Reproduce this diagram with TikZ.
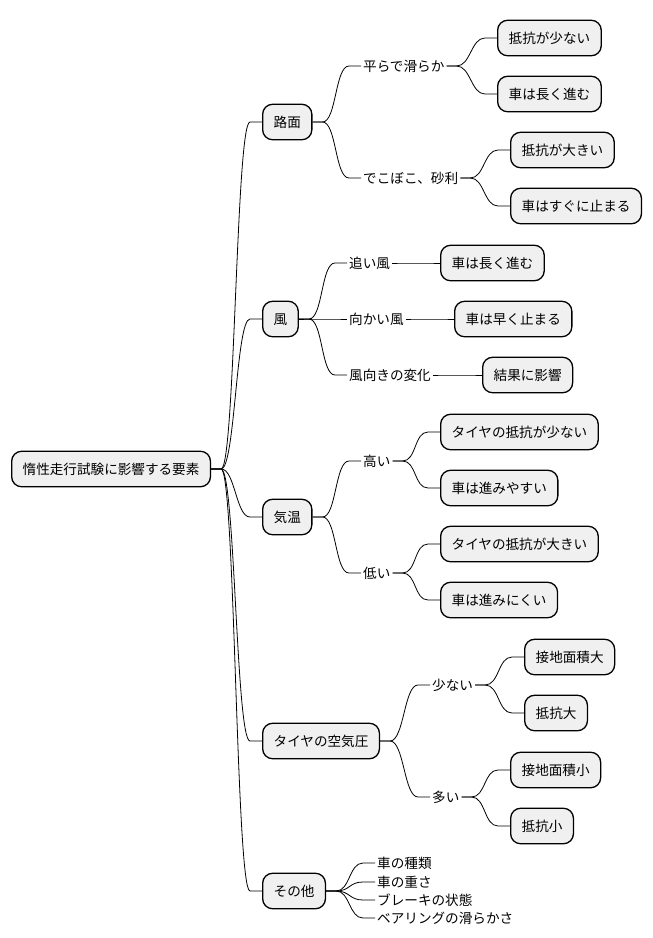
\documentclass[tikz,border=0pt]{standalone}
\usepackage{fontspec}
\setmainfont{Noto Sans CJK JP}
\usetikzlibrary{positioning}

\begin{document}
\begin{tikzpicture}[x=1pt,y=-1pt]
    \useasboundingbox (0,0) rectangle (653,938);

    \tikzstyle{box}=[anchor=west,draw=black,line width=1.3pt,fill=gray!12,rounded corners=10pt,inner xsep=11pt,minimum height=35.5pt,text height=12pt,text depth=1.6pt,font=\fontsize{13.6}{16}\selectfont]
    \tikzstyle{leaf}=[anchor=west,inner xsep=2pt,inner ysep=0pt,text height=12pt,text depth=1.6pt,font=\fontsize{13.6}{16}\selectfont]
    \tikzstyle{link}=[draw=black,line width=0.8pt,to path={-- ++(10,0) .. controls +(14,0) and +(-14,0) .. ([xshift=-12pt]\tikztotarget) -- (\tikztotarget)}]

    \node[box]  (root) at (11,469) {惰性走行試験に影響する要素};

    \node[box]  (road) at (262,122) {路面};
    \node[leaf] (flat) at (361,66) {平らで滑らか};
    \node[box]  (flat1) at (497,38) {抵抗が少ない};
    \node[box]  (flat2) at (497,94) {車は長く進む};
    \node[leaf] (rough) at (361,178) {でこぼこ、砂利};
    \node[box]  (rough1) at (510,150) {抵抗が大きい};
    \node[box]  (rough2) at (510,206) {車はすぐに止まる};

    \node[box]  (wind) at (262,319) {風};
    \node[leaf] (tail) at (347,263) {追い風};
    \node[box]  (tail1) at (440,263) {車は長く進む};
    \node[leaf] (head) at (347,319) {向かい風};
    \node[box]  (head1) at (454,319) {車は早く止まる};
    \node[leaf] (shift) at (347,375) {風向きの変化};
    \node[box]  (shift1) at (482,375) {結果に影響};

    \node[box]  (temp) at (262,517) {気温};
    \node[leaf] (hot) at (361,461) {高い};
    \node[box]  (hot1) at (440,432) {タイヤの抵抗が少ない};
    \node[box]  (hot2) at (440,488) {車は進みやすい};
    \node[leaf] (cold) at (361,573) {低い};
    \node[box]  (cold1) at (440,544) {タイヤの抵抗が大きい};
    \node[box]  (cold2) at (440,600) {車は進みにくい};

    \node[box]  (tyre) at (262,741) {タイヤの空気圧};
    \node[leaf] (low) at (430,685) {少ない};
    \node[box]  (low1) at (524,657) {接地面積大};
    \node[box]  (low2) at (524,713) {抵抗大};
    \node[leaf] (high) at (430,797) {多い};
    \node[box]  (high1) at (510,770) {接地面積小};
    \node[box]  (high2) at (510,826) {抵抗小};

    \node[box]  (other) at (262,891) {その他};
    \node[leaf] (kind) at (375,863) {車の種類};
    \node[leaf] (mass) at (375,882) {車の重さ};
    \node[leaf] (brake) at (375,900) {ブレーキの状態};
    \node[leaf] (bearing) at (375,918) {ベアリングの滑らかさ};

    % level 1
    \foreach \c in {road,wind,temp,tyre,other}
        \draw [link] (root.east) to (\c.west);

    % level 2
    \draw [link] (road.east) to (flat.west);
    \draw [link] (road.east) to (rough.west);
    \draw [link] (wind.east) to (tail.west);
    \draw [link] (wind.east) to (head.west);
    \draw [link] (wind.east) to (shift.west);
    \draw [link] (temp.east) to (hot.west);
    \draw [link] (temp.east) to (cold.west);
    \draw [link] (tyre.east) to (low.west);
    \draw [link] (tyre.east) to (high.west);
    \foreach \c in {kind,mass,brake,bearing}
        \draw [link] (other.east) to (\c.west);

    % level 3
    \draw [link] (flat.east) to (flat1.west);
    \draw [link] (flat.east) to (flat2.west);
    \draw [link] (rough.east) to (rough1.west);
    \draw [link] (rough.east) to (rough2.west);
    \draw [link] (tail.east) to (tail1.west);
    \draw [link] (head.east) to (head1.west);
    \draw [link] (shift.east) to (shift1.west);
    \draw [link] (hot.east) to (hot1.west);
    \draw [link] (hot.east) to (hot2.west);
    \draw [link] (cold.east) to (cold1.west);
    \draw [link] (cold.east) to (cold2.west);
    \draw [link] (low.east) to (low1.west);
    \draw [link] (low.east) to (low2.west);
    \draw [link] (high.east) to (high1.west);
    \draw [link] (high.east) to (high2.west);

\end{tikzpicture}
\end{document}
